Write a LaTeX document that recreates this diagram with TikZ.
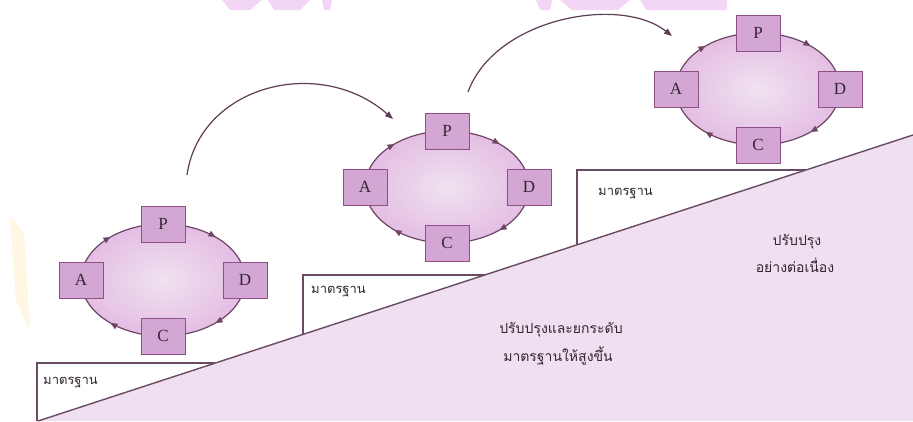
\documentclass[tikz,border=0pt]{standalone}
\usepackage{fontspec}
\setmainfont{Liberation Serif}
\newfontfamily\thai[Script=Thai]{Loma}
\usetikzlibrary{decorations.markings,arrows.meta}
\definecolor{pinkbg}{RGB}{240,223,240}
\definecolor{boxfill}{RGB}{212,166,212}
\definecolor{boxborder}{RGB}{140,80,135}
\definecolor{cycline}{RGB}{110,70,100}
\definecolor{stepline}{RGB}{105,75,100}
\definecolor{ellin}{RGB}{240,226,240}
\definecolor{ellout}{RGB}{228,190,228}
\definecolor{txt}{RGB}{50,40,50}
\definecolor{wmark}{RGB}{243,214,245}
\definecolor{glow}{RGB}{255,246,228}
\tikzset{
  pbox/.style={draw=boxborder, line width=1pt, fill=boxfill, minimum width=44pt, minimum height=36pt, inner sep=0pt, font=\fontsize{17}{17}\selectfont, text=txt},
  stepedge/.style={draw=stepline, line width=1.4pt},
  jump/.style={draw=cycline!85!black, line width=1.2pt, -{Triangle[length=8pt,width=6pt]}},
  steptext/.style={font=\thai\fontsize{13}{13}\selectfont, text=txt, anchor=west, inner sep=0pt},
  bigtext/.style={font=\thai\fontsize{14}{14}\selectfont, text=txt, inner sep=0pt},
  pdca/.pic={
    \shade[inner color=ellin, outer color=ellout] (0,0) ellipse [x radius=82, y radius=56];
    \draw[cycline, line width=1.2pt, postaction={decorate}, decoration={markings,
      mark=at position 0.125 with {\arrow{Triangle[length=7pt,width=6pt]}},
      mark=at position 0.375 with {\arrow{Triangle[length=7pt,width=6pt]}},
      mark=at position 0.625 with {\arrow{Triangle[length=7pt,width=6pt]}},
      mark=at position 0.875 with {\arrow{Triangle[length=7pt,width=6pt]}}}]
      (0,0) ellipse [x radius=82, y radius=56];
    \node[pbox] (-P) at (0,-56) {P};
    \node[pbox] (-D) at (82,0) {D};
    \node[pbox] (-C) at (0,56) {C};
    \node[pbox] (-A) at (-82,0) {A};
  }
}
\begin{document}
\begin{tikzpicture}[x=1pt,y=-1pt]
\useasboundingbox (0,0) rectangle (913,421);
\fill[white] (0,0) rectangle (913,421);
% watermark remnants
\fill[wmark] (222,0) -- (262,0) -- (250,10) -- (230,10) -- cycle;
\fill[wmark] (268,0) -- (310,0) -- (300,10) -- (274,10) -- cycle;
\fill[wmark] (322,0) -- (332,0) -- (330,10) -- (324,10) -- cycle;
\fill[wmark] (536,0) -- (552,0) -- (550,10) -- (540,10) -- cycle;
\fill[wmark] (560,0) -- (630,0) -- (618,10) -- (572,10) -- cycle;
\fill[wmark] (640,0) -- (727,0) -- (727,10) -- (646,10) -- cycle;
\fill[glow] (10,217) -- (24,232) -- (30,330) -- (16,300) -- cycle;
% ground
\coordinate (g0) at (38,421);
\coordinate (g1) at (913,135);
\fill[pinkbg] (g0) -- (g1) -- (913,421) -- cycle;
% steps
\coordinate (s1b) at (37,421);  \coordinate (s1t) at (37,363);  \coordinate (s1e) at (215.4,363);
\coordinate (s2b) at (303,334.4); \coordinate (s2t) at (303,275); \coordinate (s2e) at (484.6,275);
\coordinate (s3b) at (577,244.8); \coordinate (s3t) at (577,170); \coordinate (s3e) at (805.8,170);
\draw[stepedge] (s1b) -- (s1t) -- (s1e);
\draw[stepedge] (s2b) -- (s2t) -- (s2e);
\draw[stepedge] (s3b) -- (s3t) -- (s3e);
\draw[stepedge] (g0) -- (g1);
\node[steptext] (t1) at (43,383) {มาตรฐาน};
\node[steptext] (t2) at (311,292) {มาตรฐาน};
\node[steptext] (t3) at (598,194) {มาตรฐาน};
\node[bigtext] (m1) at (561,330) {ปรับปรุงและยกระดับ};
\node[bigtext] (m2) at (558,356) {มาตรฐานให้สูงขึ้น};
\node[bigtext] (r1) at (797,242) {ปรับปรุง};
\node[bigtext] (r2) at (795,265) {อย่างต่อเนื่อง};
% cycles
\pic (c1) at (163,280) {pdca};
\pic (c2) at (447,187) {pdca};
\pic (c3) at (758,89) {pdca};
% jumps
\coordinate (j1s) at (187,175); \coordinate (j1e) at (393,119);
\coordinate (j2s) at (468,92);  \coordinate (j2e) at (672,36);
\draw[jump] (j1s) .. controls (200,85) and (320,55) .. (j1e);
\draw[jump] (j2s) .. controls (495,18) and (620,-5) .. (j2e);
\end{tikzpicture}
\end{document}
